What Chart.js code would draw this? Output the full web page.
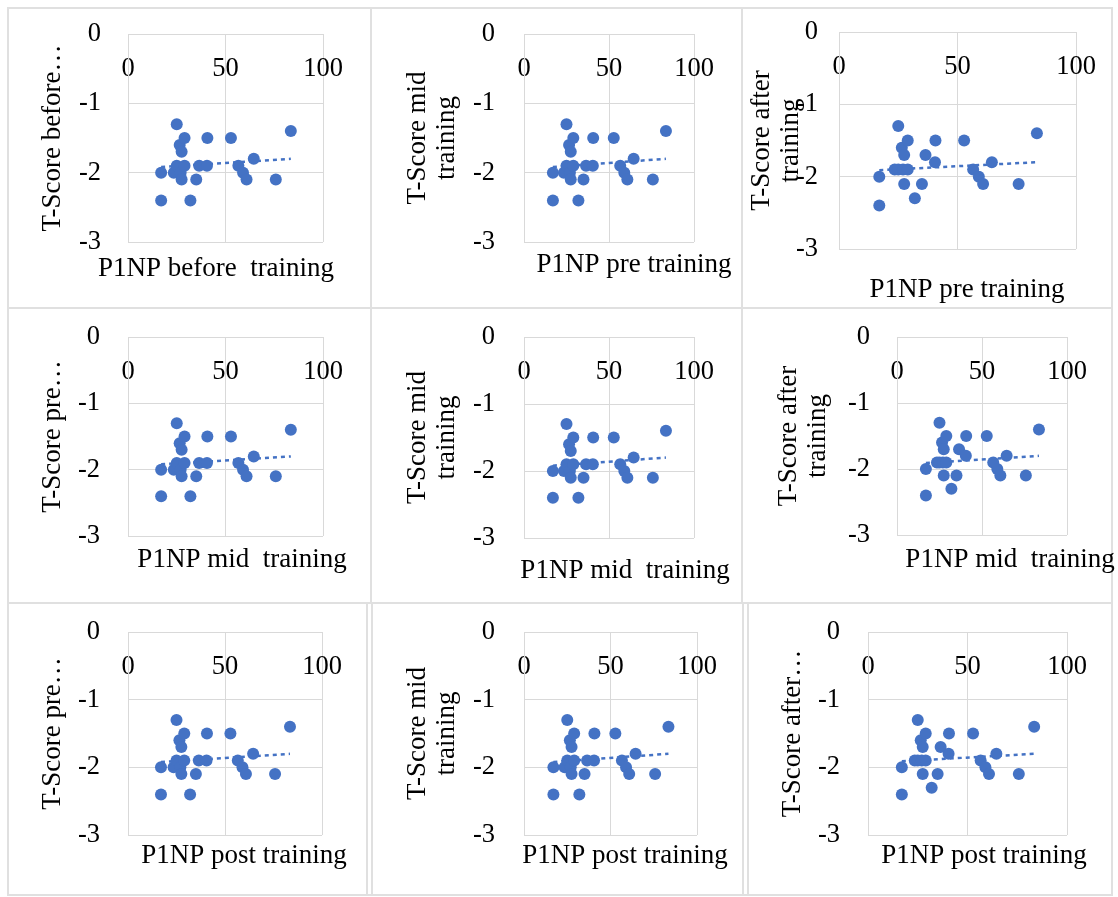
<!DOCTYPE html>
<html>
<head>
<meta charset="utf-8">
<script src="https://cdn.jsdelivr.net/npm/chart.js@4.4.1/dist/chart.umd.min.js"></script>
<style>
  body { margin: 0; background: #fff; }
  #page { position: relative; width: 1118px; height: 897px; overflow: hidden; }
  .rule { position: absolute; background: #e0e0e0; }
  canvas { position: absolute; left: 0; top: 0; }
</style>
</head>
<body>
<div id="page">
  <!-- table rules -->
  <div class="rule" style="left:7px;top:7px;width:1106px;height:2px"></div>
  <div class="rule" style="left:7px;top:307px;width:1106px;height:2px"></div>
  <div class="rule" style="left:7px;top:602px;width:1106px;height:2px"></div>
  <div class="rule" style="left:7px;top:894px;width:1106px;height:2px"></div>
  <div class="rule" style="left:7px;top:7px;width:2px;height:889px"></div>
  <div class="rule" style="left:1111px;top:7px;width:2px;height:889px"></div>
  <div class="rule" style="left:370px;top:7px;width:2px;height:597px"></div>
  <div class="rule" style="left:741px;top:7px;width:2px;height:597px"></div>
  <div class="rule" style="left:366px;top:602px;width:2px;height:294px"></div>
  <div class="rule" style="left:371px;top:602px;width:2px;height:294px"></div>
  <div class="rule" style="left:742px;top:602px;width:2px;height:294px"></div>
  <div class="rule" style="left:747px;top:602px;width:2px;height:294px"></div>
</div>
<script>
// readings: the three rows plot the same P1NP values
const p1np = [17, 17, 23.5, 25, 25, 26.5, 27, 27.5, 27.5, 29, 29, 32, 35, 36.5, 40.5, 40.7, 52.8, 56.6, 59, 60.8, 64.5, 75.8, 83.5];
const tScoreBefore = [-2.0, -2.4, -2.0, -1.3, -1.9, -1.6, -2.0, -1.7, -2.1, -1.5, -1.9, -2.4, -2.1, -1.9, -1.9, -1.5, -1.5, -1.9, -2.0, -2.1, -1.8, -2.1, -1.4];
const tScoreAfter = [-2.0, -2.4, -1.9, -1.3, -1.9, -1.6, -1.9, -1.7, -2.1, -1.5, -1.9, -2.3, -2.1, -1.7, -1.8, -1.5, -1.5, -1.9, -2.0, -2.1, -1.8, -2.1, -1.4];

// dotted linear trendlines (end points)
const trendX = [17, 83.5];
const trendBefore = [-1.92, -1.80];
const trendAfter = [-1.91, -1.80];

const xTicks = [0, 50, 100];
const yTicks = [0, -1, -2, -3];

const yTitles = [
  "T-Score before…", ["T-Score mid", "training"], ["T-Score after", "training"],
  "T-Score pre…", ["T-Score mid", "training"], ["T-Score after", "training"],
  "T-Score pre…", ["T-Score mid", "training"], "T-Score after…",
];
const xTitles = [
  "P1NP before  training", "P1NP pre training", "P1NP pre training",
  "P1NP mid  training", "P1NP mid  training", "P1NP mid  training",
  "P1NP post training", "P1NP post training", "P1NP post training",
];
const panelY = [tScoreBefore, tScoreBefore, tScoreAfter, tScoreBefore, tScoreBefore, tScoreAfter, tScoreBefore, tScoreBefore, tScoreAfter];
const panelTrend = [trendBefore, trendBefore, trendAfter, trendBefore, trendBefore, trendAfter, trendBefore, trendBefore, trendAfter];

// page geometry of each plot: plot box, y title centre, tick label right edge, x title centre
const boxes = [
  { L: 128, T: 34, R: 323, B: 242, tx: 52.5, lr: 101, xc: 216, xy: 269 },
  { L: 524, T: 34, R: 694, B: 242, tx: 418, lr: 495, xc: 634, xy: 265 },
  { L: 839, T: 32, R: 1076, B: 249, tx: 762, lr: 818, xc: 967, xy: 290 },
  { L: 128, T: 337, R: 323, B: 536, tx: 52.5, lr: 100, xc: 242, xy: 560 },
  { L: 524, T: 337, R: 694, B: 538, tx: 418, lr: 495, xc: 625, xy: 571 },
  { L: 897, T: 337, R: 1067, B: 535, tx: 789, lr: 870, xc: 1010, xy: 560 },
  { L: 128, T: 632, R: 322, B: 835, tx: 52.5, lr: 100, xc: 244, xy: 856 },
  { L: 524, T: 632, R: 697, B: 835, tx: 418, lr: 495, xc: 625, xy: 856 },
  { L: 868, T: 632, R: 1067, B: 835, tx: 793, lr: 840, xc: 984, xy: 856 },
];

const W = 1118, H = 897;
const blue = "#4472C4";
const gridColor = "#d9d9d9";
const tickFont = { size: 26.5, lineHeight: 1.2 };
const titleFont = { size: 27, lineHeight: 1.07 };
const titleLH = 27 * 1.07;

Chart.defaults.font.family = "'Times New Roman', 'Liberation Serif', serif";
Chart.defaults.color = "#000";

// the x title sits on a bare bottom axis; move it to where the picture has it
const placeXTitle = {
  id: "placeXTitle",
  afterLayout(chart, args, opts) {
    const s = chart.scales.x2;
    s.left = opts.xc - 160;
    s.right = opts.xc + 160;
  },
};

const page = document.getElementById("page");

boxes.forEach((b, i) => {
  const canvas = document.createElement("canvas");
  canvas.width = W;
  canvas.height = H;
  page.appendChild(canvas);

  const padLeft = b.tx - titleLH / 2;
  const yWidth = b.L - padLeft;
  const x2Height = b.xy - b.B + titleLH / 2;

  new Chart(canvas.getContext("2d"), {
    type: "scatter",
    data: {
      datasets: [
        {
          data: p1np.map((x, k) => ({ x: x, y: panelY[i][k] })),
          backgroundColor: blue,
          borderWidth: 0,
          pointRadius: 6,
        },
        {
          data: trendX.map((x, k) => ({ x: x, y: panelTrend[i][k] })),
          showLine: true,
          pointRadius: 0,
          borderColor: blue,
          borderWidth: 2.5,
          borderDash: [4, 4],
        },
      ],
    },
    options: {
      responsive: false,
      animation: false,
      layout: {
        padding: { left: padLeft, top: b.T, right: W - b.R, bottom: H - b.B - x2Height },
      },
      plugins: {
        legend: { display: false },
        tooltip: { enabled: false },
        placeXTitle: { xc: b.xc },
      },
      scales: {
        x: {
          type: "linear",
          position: { y: 0 },
          min: 0,
          max: 100,
          afterBuildTicks: (s) => { s.ticks = xTicks.map((v) => ({ value: v })); },
          afterFit: (s) => { s.paddingLeft = 0; s.paddingRight = 0; },
          ticks: { font: tickFont, padding: 19, maxRotation: 0 },
          grid: { color: gridColor, drawTicks: false },
          border: { color: gridColor },
        },
        x2: {
          type: "linear",
          position: "bottom",
          min: 0,
          max: 100,
          ticks: { display: false },
          grid: { display: false, drawTicks: false },
          border: { display: false },
          title: { display: true, text: xTitles[i], font: titleFont, padding: 0 },
          afterFit: (s) => { s.height = x2Height; },
        },
        y: {
          type: "linear",
          position: "left",
          min: -3,
          max: 0,
          afterBuildTicks: (s) => { s.ticks = yTicks.map((v) => ({ value: v })); },
          ticks: { font: tickFont, padding: b.L - b.lr },
          grid: { color: gridColor, drawTicks: false },
          border: { color: gridColor },
          title: { display: true, text: yTitles[i], font: titleFont, padding: 0 },
          afterFit: (s) => {
            s.width = yWidth;
            s.paddingTop = 0;
            s.paddingBottom = 0;
          },
        },
      },
    },
    plugins: [placeXTitle],
  });
});
</script>
</body>
</html>
